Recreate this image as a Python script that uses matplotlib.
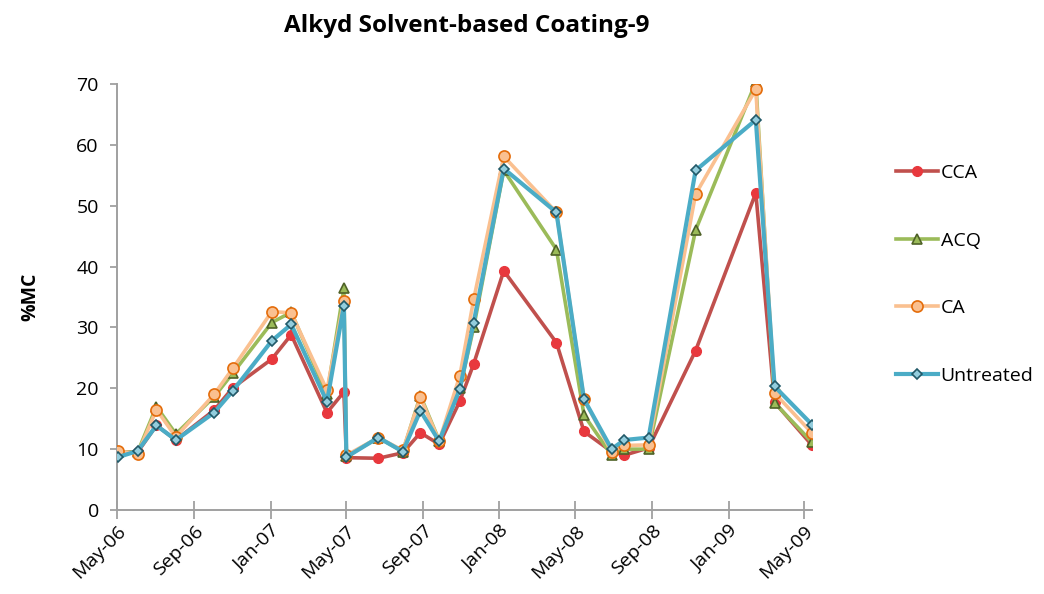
import matplotlib.pyplot as plt
import matplotlib.dates as mdates
import pandas as pd

# sampling dates and moisture content readings (%MC)
dates = pd.to_datetime([
    "2006-05-03", "2006-06-03", "2006-07-03", "2006-08-03", "2006-10-03",
    "2006-11-02", "2007-01-03", "2007-02-03", "2007-04-01", "2007-04-28",
    "2007-05-02", "2007-06-22", "2007-07-31", "2007-08-28", "2007-09-27",
    "2007-10-30", "2007-11-21", "2008-01-08", "2008-04-01", "2008-05-15",
    "2008-06-28", "2008-07-18", "2008-08-26", "2008-11-09", "2009-02-13",
    "2009-03-15", "2009-05-14",
])

cca = [9.5, 9.5, 13.9, 11.5, 16.4, 20.1, 24.8, 28.8, 16.0, 19.4,
       8.6, 8.5, 9.4, 12.7, 10.8, 17.9, 24.0, 39.3, 27.5, 12.9,
       9.6, 9.0, 10.2, 26.2, 52.1, 17.7, 10.6]
acq = [9.5, 9.5, 17.0, 12.5, 18.6, 22.5, 30.8, 32.5, 19.0, 36.4,
       8.8, 11.9, 9.6, 18.8, 11.4, 20.0, 30.0, 55.8, 42.8, 15.6,
       9.0, 10.0, 10.0, 46.0, 70.3, 17.6, 11.1]
ca = [9.7, 9.2, 16.5, 12.0, 19.0, 23.3, 32.6, 32.4, 19.7, 34.4,
      9.0, 11.9, 9.8, 18.5, 11.3, 22.1, 34.6, 58.1, 48.9, 18.2,
      9.5, 10.6, 10.7, 51.9, 69.1, 19.2, 12.6]
untreated = [8.7, 9.7, 13.9, 11.5, 16.0, 19.6, 27.8, 30.5, 17.8, 33.6,
             8.7, 11.9, 9.6, 16.3, 11.3, 19.9, 30.8, 56.1, 48.9, 18.2,
             10.0, 11.5, 11.9, 55.8, 64.1, 20.3, 14.0]

plt.rcParams['font.family'] = ['Open Sans', 'DejaVu Sans']

fig = plt.figure(figsize=(10.44, 5.94), dpi=100)
ax = fig.add_axes([0.112, 0.1414, 0.666, 0.7172])

ax.plot(dates, cca, color='#C0504D', lw=2.6, marker='o', ms=7,
        mfc='#E8383D', mec='#E8383D', label='CCA', zorder=3)
ax.plot(dates, acq, color='#9BBB59', lw=2.6, marker='^', ms=7,
        mfc='#9BBB59', mec='#4F6228', mew=1.2, label='ACQ', zorder=4)
ax.plot(dates, ca, color='#FAC090', lw=2.6, marker='o', ms=8,
        mfc='#FAC090', mec='#E46C0A', mew=1.2, label='CA', zorder=5)
ax.plot(dates, untreated, color='#4BACC6', lw=3.0, marker='D', ms=5.5,
        mfc='#93CDDD', mec='#215968', mew=1.2, label='Untreated', zorder=6)

ax.set_ylim(0, 70)
ax.set_yticks(range(0, 71, 10))
ax.set_xlim(pd.Timestamp("2006-05-01"), pd.Timestamp("2009-05-14"))
ax.xaxis.set_major_locator(mdates.MonthLocator(bymonth=[1, 5, 9]))
ax.xaxis.set_major_formatter(mdates.DateFormatter('%b-%y'))

for lab in ax.get_xticklabels():
    lab.set_rotation(45)
    lab.set_ha('right')
    lab.set_rotation_mode('anchor')

ax.tick_params(axis='both', labelsize=14, colors='#A0A0A0',
               labelcolor='black', width=1.3)
ax.tick_params(axis='y', length=5, pad=8)
ax.tick_params(axis='x', direction='inout', length=13, pad=2)
for side in ('top', 'right'):
    ax.spines[side].set_visible(False)
for side in ('left', 'bottom'):
    ax.spines[side].set_color('#A0A0A0')
    ax.spines[side].set_linewidth(1.4)

ax.set_ylabel('%MC', fontsize=14, fontweight='bold', labelpad=26)
fig.text(0.447, 0.956, 'Alkyd Solvent-based Coating-9', ha='center',
         va='center', fontsize=17.5, fontweight='bold')

ax.legend(loc='center left', bbox_to_anchor=(1.095, 0.553), frameon=False,
          fontsize=14, labelspacing=2.55, handlelength=2.15,
          handletextpad=0.15)

fig.savefig('out.png', dpi=100)
